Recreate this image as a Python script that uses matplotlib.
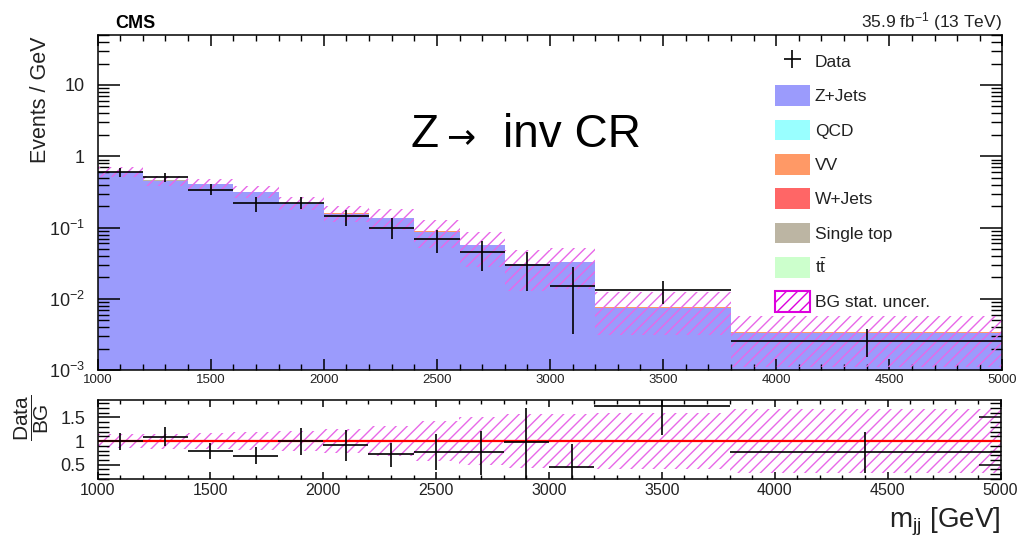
import numpy as np
import matplotlib
matplotlib.use('Agg')
import matplotlib.pyplot as plt
from matplotlib.patches import Patch
from matplotlib.ticker import FixedLocator, FixedFormatter, MultipleLocator, LogLocator, NullFormatter

# ---------------- data ----------------
bin_edges = [1000, 1200, 1400, 1600, 1800, 2000, 2200, 2400, 2600, 2800, 3000, 3200, 3800, 5000]

zjets  = [0.600, 0.452, 0.403, 0.315, 0.218, 0.157, 0.135, 0.0877, 0.0571, 0.0305, 0.0325, 0.0075, 0.00335]
qcd    = [0.002, 0.001, 0.001, 0.001, 0.0008, 0.0005, 0.0003, 0.0002, 0.0001, 0.0001, 0.0001, 0.00002, 0.00001]
vv     = [0.004, 0.003, 0.003, 0.002, 0.0015, 0.001, 0.0008, 0.0006, 0.0004, 0.0002, 0.0002, 0.00025, 0.00003]
wjets  = [0.002, 0.002, 0.001, 0.001, 0.0008, 0.0005, 0.0003, 0.0002, 0.0001, 0.0001, 0.0001, 0.00002, 0.00001]
stop   = [0.001, 0.001, 0.001, 0.0005, 0.0004, 0.0003, 0.0002, 0.0001, 0.00005, 0.00003, 0.00003, 0.00001, 0.000005]
ttbar  = [0.001, 0.001, 0.001, 0.0005, 0.0004, 0.0003, 0.0002, 0.0001, 0.00005, 0.00003, 0.00003, 0.00001, 0.000005]
bg_rel_unc = [0.15, 0.16, 0.17, 0.19, 0.21, 0.25, 0.32, 0.42, 0.51, 0.58, 0.58, 0.60, 0.67]

data      = [0.60, 0.51, 0.338, 0.222, 0.224, 0.147, 0.098, 0.0688, 0.045, 0.030, 0.0152, 0.0134, 0.0026]
data_down = [0.081, 0.077, 0.051, 0.054, 0.043, 0.041, 0.029, 0.025, 0.020, 0.017, 0.012, 0.0049, 0.00105]
data_up   = [0.080, 0.067, 0.067, 0.050, 0.048, 0.031, 0.037, 0.024, 0.021, 0.016, 0.0127, 0.0047, 0.0012]

ratio      = [1.0, 1.09, 0.795, 0.68, 1.0, 0.915, 0.72, 0.775, 0.775, 0.97, 0.457, 1.74, 0.76]
ratio_down = [0.19, 0.19, 0.175, 0.17, 0.30, 0.335, 0.28, 0.385, 0.495, 0.87, 0.37, 0.61, 0.44]
ratio_up   = [0.163, 0.21, 0.169, 0.20, 0.27, 0.315, 0.23, 0.385, 0.445, 0.72, 0.483, 0.56, 0.44]

components = ['Z+Jets', 'QCD', 'VV', 'W+Jets', 'Single top', r't$\bar{\mathrm{t}}$']
comp_values = [zjets, qcd, vv, wjets, stop, ttbar]
comp_colors = ['#9b9bfc', '#99ffff', '#ff9966', '#ff6666', '#bcb5a3', '#ccffcc']
hatch_color = '#e868e8'

y_ticks = [1e-3, 1e-2, 1e-1, 1, 10]
y_tick_labels = [r'10$^{-3}$', r'10$^{-2}$', r'10$^{-1}$', '1', '10']
x_ticks = [1000, 1500, 2000, 2500, 3000, 3500, 4000, 4500, 5000]
r_ticks = [0.5, 1, 1.5]
r_tick_labels = ['0.5', '1', '1.5']

# ---------------- style ----------------
DPI = 100

plt.rcParams['font.family'] = ['Liberation Sans', 'DejaVu Sans']
plt.rcParams['mathtext.fontset'] = 'custom'
plt.rcParams['mathtext.rm'] = 'Liberation Sans'
plt.rcParams['mathtext.it'] = 'Liberation Sans:italic'
plt.rcParams['mathtext.bf'] = 'Liberation Sans:bold'
plt.rcParams['hatch.linewidth'] = 1.0
plt.rcParams['axes.linewidth'] = 1.1

W, H = 1019, 539
fig = plt.figure(figsize=(W / DPI, H / DPI), dpi=DPI)


def fx(px):
    return px / W


def fy(py):
    return 1 - py / H


ax = fig.add_axes([fx(97.6), fy(370.3), fx(1002.4) - fx(97.6), fy(34.7) - fy(370.3)])
ax2 = fig.add_axes([fx(97.5), fy(479.3), fx(1000.5) - fx(97.5), fy(400) - fy(479.3)])

edges = np.array(bin_edges, dtype=float)
centers = 0.5 * (edges[:-1] + edges[1:])
halfw = 0.5 * (edges[1:] - edges[:-1])

# ---------------- main panel ----------------
ax.set_yscale('log')
bottom = np.zeros(len(centers))
for vals, col in zip(comp_values, comp_colors):
    top = bottom + np.array(vals)
    base = bottom.copy()
    base[base <= 0] = 1e-6
    ax.stairs(top, edges, baseline=base, fill=True, facecolor=col, edgecolor='none', linewidth=0, zorder=1)
    bottom = top
total = bottom
unc = np.array(bg_rel_unc)
ax.stairs(total * (1 + unc), edges, baseline=total * (1 - unc), fill=True,
          facecolor='none', edgecolor=hatch_color, hatch='///', linewidth=0, zorder=2)

eb = ax.errorbar(centers, data, xerr=halfw, yerr=[data_down, data_up], fmt='none',
                 ecolor='black', elinewidth=1.2, capsize=0, zorder=3)

ax.set_xlim(1000, 5000)
ax.set_ylim(1e-3, 10 ** 1.705)
ax.yaxis.set_major_locator(FixedLocator(y_ticks))
ax.yaxis.set_major_formatter(FixedFormatter(y_tick_labels))
ax.yaxis.set_minor_locator(LogLocator(base=10, subs=np.arange(2, 10), numticks=20))
ax.yaxis.set_minor_formatter(NullFormatter())
ax.xaxis.set_major_locator(FixedLocator(x_ticks))
ax.xaxis.set_minor_locator(MultipleLocator(100))
ax.tick_params(which='both', direction='in', top=True, right=True)
ax.tick_params(axis='y', which='major', length=16, width=1.1, labelsize=13, pad=9, labelcolor='#222222')
ax.tick_params(axis='y', which='minor', length=8, width=1.0)
ax.tick_params(axis='x', which='major', length=8, width=1.1, labelsize=9.5, pad=2.5, labelcolor='#222222')
ax.tick_params(axis='x', which='minor', length=4, width=1.0)

# legend
handles = [eb] + [Patch(facecolor=c, edgecolor='none') for c in comp_colors] + \
          [Patch(facecolor='white', edgecolor='#dd00dd', hatch='///', linewidth=1.5)]
labels = ['Data'] + components + ['BG stat. uncer.']
leg = ax.legend(handles, labels, loc='upper left', bbox_to_anchor=(fx(768), fy(44)),
                bbox_transform=fig.transFigure, frameon=False, fontsize=12.5,
                handlelength=2.0, handleheight=1.45, handletextpad=0.3, labelspacing=0.79,
                borderpad=0.4, borderaxespad=0)
for t in leg.get_texts():
    t.set_color('#222222')

# ---------------- ratio panel ----------------
rel = np.array(bg_rel_unc)
ax2.stairs(1 + rel, edges, baseline=1 - rel, fill=True, facecolor='none',
           edgecolor=hatch_color, hatch='///', linewidth=0, zorder=1)
ax2.axhline(1, color='#ff0000', linewidth=1.6, zorder=2)
ax2.errorbar(centers, ratio, xerr=halfw, yerr=[ratio_down, ratio_up], fmt='none',
             ecolor='black', elinewidth=1.2, capsize=0, zorder=3)
ax2.set_xlim(1000, 5000)
ax2.set_ylim(0.19, 1.87)
ax2.yaxis.set_major_locator(FixedLocator(r_ticks))
ax2.yaxis.set_major_formatter(FixedFormatter(r_tick_labels))
ax2.yaxis.set_minor_locator(MultipleLocator(0.1))
ax2.xaxis.set_major_locator(FixedLocator(x_ticks))
ax2.xaxis.set_minor_locator(MultipleLocator(100))
ax2.tick_params(which='both', direction='in', top=True, right=True)
ax2.tick_params(axis='y', which='major', length=16, width=1.1, labelsize=13, pad=9, labelcolor='#222222')
ax2.tick_params(axis='y', which='minor', length=8, width=1.0)
ax2.tick_params(axis='x', which='major', length=5, width=1.1, labelsize=11.5, pad=3, labelcolor='#222222')
ax2.tick_params(axis='x', which='minor', length=3, width=1.0)

# ---------------- texts ----------------
fig.text(fx(115), fy(28), 'CMS', fontsize=13, fontweight='bold', ha='left', va='baseline')
fig.text(fx(1002), fy(27), r'35.9 fb$^{-1}$ (13 TeV)', fontsize=12.5, ha='right', va='baseline', color='#222222')
fig.text(fx(40), fy(100), 'Events / GeV', fontsize=15.5, rotation=90, ha='center', va='center', color='#222222')
fig.text(fx(32), fy(418), r'$\dfrac{\mathrm{Data}}{\mathrm{BG}}$', fontsize=15, rotation=90,
         ha='center', va='center', color='#222222')
fig.text(fx(1000), fy(527), r'm$_{\mathrm{jj}}$ [GeV]', fontsize=20, ha='right', va='baseline', color='#222222')

fig.text(fx(411), fy(146.7), 'Z', fontsize=33, ha='left', va='baseline')
fig.text(fx(446), fy(146.7), '\u2192', fontsize=25, family='DejaVu Sans', ha='left', va='baseline')
fig.text(fx(503), fy(146.7), 'inv CR', fontsize=33, ha='left', va='baseline')

fig.savefig('out.png', dpi=DPI)
